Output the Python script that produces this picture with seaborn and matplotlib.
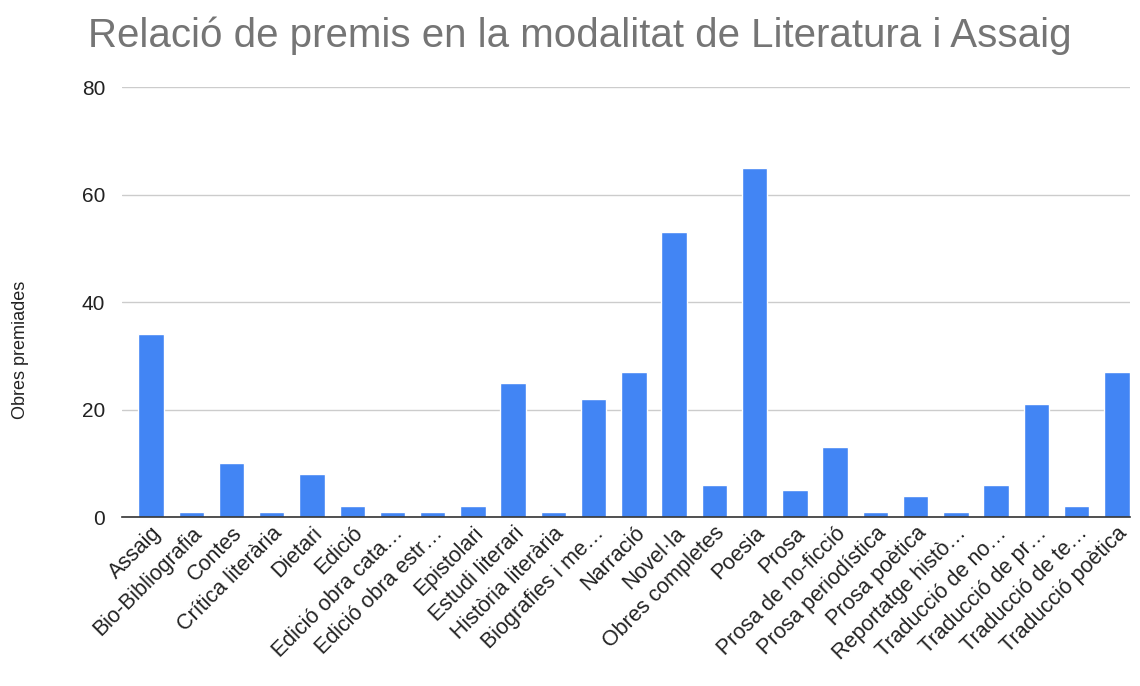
import matplotlib
matplotlib.use("Agg")
import matplotlib.pyplot as plt
import seaborn as sns
import pandas as pd

categories = [
    "Assaig", "Bio-Bibliografia", "Contes", "Crítica literària", "Dietari", "Edició",
    "Edició obra cata…", "Edició obra estr…", "Epistolari", "Estudi literari",
    "Història literària", "Biografies i me…", "Narració", "Novel·la", "Obres completes",
    "Poesia", "Prosa", "Prosa de no-ficció", "Prosa periodística", "Prosa poètica",
    "Reportatge histò…", "Traducció de no…", "Traducció de pr…", "Traducció de te…",
    "Traducció poètica",
]
values = [34, 1, 10, 1, 8, 2, 1, 1, 2, 25, 1, 22, 27, 53, 6, 65, 5, 13, 1, 4, 1, 6, 21, 2, 27]
yticks = [0, 20, 40, 60, 80]

sns.set_theme(style="white")
plt.rcParams["font.family"] = ["Liberation Sans", "DejaVu Sans"]

df = pd.DataFrame({"cat": categories, "val": values})

fig = plt.figure(figsize=(11.4, 6.86), dpi=100)
ax = fig.add_axes([0.107, 0.246, 0.884, 0.627])
sns.barplot(data=df, x="cat", y="val", color="#4285f4", saturation=1, width=0.63, ax=ax)

ax.set_ylim(0, 80)
ax.set_xlim(-0.72, len(categories) - 0.68)
ax.set_yticks(yticks)
ax.set_yticklabels([str(t) for t in yticks], fontsize=15, color="#222222")
ax.yaxis.grid(True, color="#cccccc", linewidth=1)
ax.set_axisbelow(True)
for s in ["top", "right", "left"]:
    ax.spines[s].set_visible(False)
ax.spines["bottom"].set_color("#333333")
ax.spines["bottom"].set_linewidth(1.2)
ax.tick_params(axis="both", length=0)
ax.tick_params(axis="y", pad=12)
ax.tick_params(axis="x", pad=4)
ax.set_xticks(range(len(categories)))
ax.set_xticklabels(categories, rotation=45, ha="right", rotation_mode="anchor", fontsize=15.5, color="#222222")
ax.set_xlabel("")
ax.set_ylabel("")

fig.text(0.018, 1 - 350 / 686, "Obres premiades", fontsize=13, color="#222222",
         rotation=90, ha="center", va="center")

fig.text(0.077, 0.948, "Relació de premis en la modalitat de Literatura i Assaig",
         fontsize=29, color="#757575", ha="left", va="center")

fig.savefig("out.png", dpi=100)
